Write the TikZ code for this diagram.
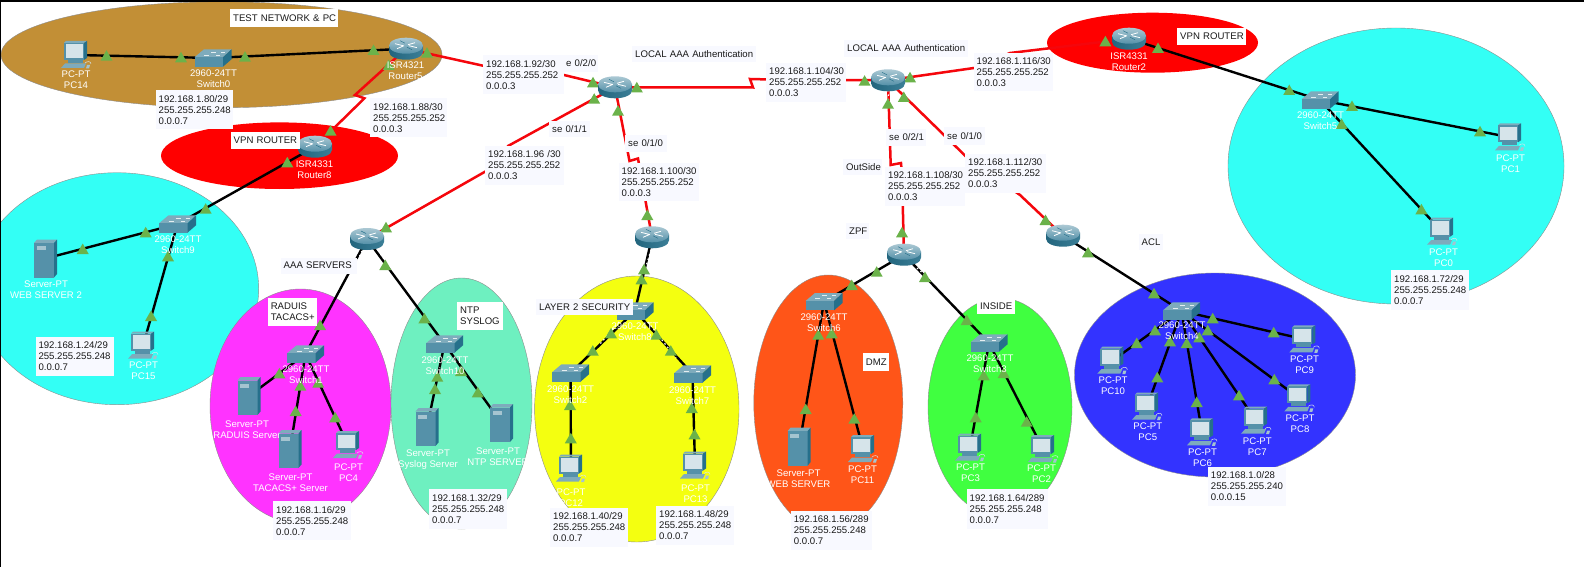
\documentclass[tikz,border=0pt]{standalone}
\usepackage{fontspec}
\setmainfont{Liberation Sans}
\pgfdeclarelayer{ell}\pgfdeclarelayer{lnk}\pgfdeclarelayer{lab}\pgfdeclarelayer{tri}\pgfdeclarelayer{box}
\pgfsetlayers{ell,lnk,tri,lab,main,box}
\definecolor{tgreen}{HTML}{6BB24A}
\definecolor{boxbg}{HTML}{F8F9FF}
\definecolor{redlink}{HTML}{F5060C}
\definecolor{face}{HTML}{5591A9}
\definecolor{topf}{HTML}{7EABBC}
\definecolor{side}{HTML}{26708B}
\definecolor{scr}{HTML}{D6E4EA}
\definecolor{zcyan}{HTML}{33FFF5}
\definecolor{zbrown}{HTML}{C28F36}
\definecolor{zmag}{HTML}{FF33FF}
\definecolor{zteal}{HTML}{6EF0C0}
\definecolor{zyel}{HTML}{F4FF10}
\definecolor{zorg}{HTML}{FF5518}
\definecolor{zgrn}{HTML}{40FF40}
\definecolor{zblu}{HTML}{3333FF}
\newcommand{\txtfont}{\fontsize{9.6}{11}\selectfont}
\tikzset{
  zone/.style={draw=black!45,line width=.4pt,fill=#1},
  blk/.style={draw=black,line width=2.4pt},
  rdl/.style={draw=redlink,line width=2.5pt,line join=miter},
  whitedots/.style={draw=white,line width=1.2pt,dash pattern=on 1.5pt off 3pt},
  devlab/.style={font=\txtfont,text=white,align=center,inner sep=0pt},
  tb/.style={fill=boxbg,inner sep=0pt,font=\txtfont,text=black!90,align=left,anchor=north west},
  icon/.style={inner sep=0pt,outer sep=0pt},
  routericon/.style={icon,minimum width=36pt,minimum height=26pt,path picture={
    \begin{scope}[shift={(path picture bounding box.center)}]
      \shade[left color=side!90!black,middle color=white!85!face,right color=side!90] (-17,-3) -- (-17,3)
        .. controls (-17,8) and (-9,11) .. (0,11) .. controls (9,11) and (17,8) .. (17,3) -- (17,-3) -- cycle;
      \shade[top color=topf!65!white,bottom color=face] (-17,-3) .. controls (-17,-8) and (-9,-11) .. (0,-11)
        .. controls (9,-11) and (17,-8) .. (17,-3) .. controls (17,2) and (9,5) .. (0,5)
        .. controls (-9,5) and (-17,2) .. (-17,-3) -- cycle;
      \draw[white,line width=.8pt] (-11,-5) -- (-3,-3) (11,-1) -- (3,-3) (-9,0) -- (-2,-3) (9,-6) -- (2,-4);
      \draw[side,line width=.5pt] (-6,-8) -- (-1,-5.5) (6,1) -- (1,-1.5);
    \end{scope}}},
  switchicon/.style={icon,minimum width=40pt,minimum height=20pt,path picture={
    \begin{scope}[shift={(path picture bounding box.center)}]
      \fill[topf] (-18.5,-.7) -- (-9,-8.7) -- (18.5,-8.7) -- (10,-.7) -- cycle;
      \fill[face] (-18.5,-.7) rectangle (10,8.7);
      \fill[side] (10,-.7) -- (18.5,-8.7) -- (18.5,1.3) -- (10,8.7) -- cycle;
      \draw[white!80!topf,line width=.6pt] (-9,-3) -- (-4,-3) (-2,-6) -- (3,-6) (3,-3) -- (7,-3) (8,-6) -- (12,-6);
    \end{scope}}},
  servericon/.style={icon,minimum width=26pt,minimum height=42pt,path picture={
    \begin{scope}[shift={(path picture bounding box.center)}]
      \fill[topf] (-11.5,-15.5) -- (-8.5,-19) -- (11.5,-19) -- (8.5,-15.5) -- cycle;
      \fill[face] (-11.5,-15.5) rectangle (8.5,19);
      \fill[side] (8.5,-15.5) -- (11.5,-19) -- (11.5,15.5) -- (8.5,19) -- cycle;
      \fill[topf!70!white] (-9,-12.5) rectangle (0,-8.5);
    \end{scope}}},
  pcicon/.style={icon,minimum width=34pt,minimum height=30pt,path picture={
    \begin{scope}[shift={(path picture bounding box.center)}]
      \fill[topf] (-12,-12) -- (-10,-14) -- (11,-14) -- (8,-12) -- cycle;
      \fill[face] (-12,-12) rectangle (8,5);
      \fill[side] (8,-12) -- (11,-14) -- (11,3) -- (8,5) -- cycle;
      \fill[scr] (-10.5,-10.5) rectangle (7,3);
      \fill[face] (-8,5) rectangle (7,8);
      \fill[topf] (-11,8.5) -- (10,8.5) -- (8,13) -- (-15,13) -- cycle;
      \fill[topf!70!white] (11,10) -- (14,10) -- (13,13.5) -- (10,13.5) -- cycle;
      \draw[scr,line width=.5pt] (9,8) .. controls (11,6) and (15,6) .. (15,9);
    \end{scope}}},
}
% type, name, x, y, label x, label y, label
\newcommand{\devat}[7]{%
  \node[#1] (#2) at (#3,#4) {};
  \begin{pgfonlayer}{lab}\node[devlab] (#2L) at (#5,#6) {#7};\end{pgfonlayer}}
% name, x1, y1, x2, y2, text, fill
\newcommand{\txtbox}[7][boxbg]{%
  \begin{pgfonlayer}{box}
  \node[tb,fill=#1,minimum width={(#5-#3)*1pt},minimum height={(#6-#4)*1pt},text width={(#5-#3-6)*1pt},inner xsep=3pt] (#2) at (#3,#4) {#7};
  \end{pgfonlayer}}
\newcommand{\lnkB}[2]{\begin{pgfonlayer}{lnk}\draw[blk] (#1.center) -- (#2.center);\end{pgfonlayer}}
\begin{document}
\begin{tikzpicture}[x=1pt,y=-1pt]
\useasboundingbox (0,0) rectangle (1584,567);

\begin{pgfonlayer}{ell}
\fill[white] (0,0) rectangle (1584,567);
\begin{scope}
\clip (1,2) rectangle (1584,567);
\draw[zone=zcyan] (117,288.7) ellipse [x radius=141.7,y radius=116];
\draw[zone=zbrown] (221.5,54.7) ellipse [x radius=220.5,y radius=53];
\draw[zone=red,draw=none] (279.5,155.7) ellipse [x radius=118.5,y radius=33.3];
\draw[zone=zmag] (300.5,406) ellipse [x radius=90.5,y radius=117];
\draw[zone=zteal] (461.5,403.5) ellipse [x radius=70.5,y radius=125.5];
\draw[zone=zyel] (636.8,409) ellipse [x radius=102.2,y radius=133];
\draw[zone=zorg] (828.3,403) ellipse [x radius=74.5,y radius=128];
\draw[zone=zgrn] (1000,407) ellipse [x radius=72,y radius=109];
\draw[zone=zblu] (1215,375) ellipse [x radius=140.5,y radius=102];
\draw[zone=red,draw=none] (1152.5,42.7) ellipse [x radius=105.5,y radius=30];
\draw[zone=zcyan] (1396,166) ellipse [x radius=168,y radius=138];
\end{scope}
\fill[black] (0,0) rectangle (1584,2);
\fill[black] (0,0) rectangle (1,567);
\end{pgfonlayer}

% devices
\devat{routericon}{rFive}{406}{48.7}{405.5}{71}{ISR4321\\Router5}
\devat{routericon}{rEight}{315}{146.7}{314.5}{170}{ISR4331\\Router8}
\devat{routericon}{rTwo}{1129}{38.7}{1129}{61.7}{ISR4331\\Router2}
\node[routericon] (rCL) at (615,87.3) {};
\node[routericon] (rCR) at (888,80.3) {};
\node[routericon] (rAAA) at (367,239) {};
\node[routericon] (rYel) at (652,237.3) {};
\node[routericon] (rZPF) at (904,254.7) {};
\node[routericon] (rACL) at (1063,235.7) {};
\devat{switchicon}{sZero}{213}{58}{213.5}{78.5}{2960-24TT\\Switch0}
\devat{switchicon}{sNine}{177.5}{224}{178}{244.5}{2960-24TT\\Switch9}
\devat{switchicon}{sFive}{1320}{100}{1320.5}{120.2}{2960-24TT\\Switch5}
\devat{switchicon}{sOne}{305.5}{354}{306}{375}{2960-24TT\\Switch1}
\devat{switchicon}{sTen}{444.5}{344}{445}{366}{2960-24TT\\Switch10}
\devat{switchicon}{sEight}{635}{311}{635}{331.5}{2960-24TT\\Switch8}
\devat{switchicon}{sTwoS}{570.5}{373}{570.5}{394.5}{2960-24TT\\Switch2}
\devat{switchicon}{sSeven}{692.5}{374}{692.5}{396}{2960-24TT\\Switch7}
\devat{switchicon}{sSix}{824}{301.7}{824}{322.2}{2960-24TT\\Switch6}
\devat{switchicon}{sThree}{989}{343}{990}{363.2}{2960-24TT\\Switch3}
\devat{switchicon}{sFour}{1181.5}{311}{1182}{330.8}{2960-24TT\\Switch4}
\devat{servericon}{wsTwo}{45.5}{258.5}{46}{289.5}{Server-PT\\WEB SERVER 2}
\devat{servericon}{svRad}{249}{396}{247}{430}{Server-PT\\RADUIS Server}
\devat{servericon}{svTac}{290}{449}{290.5}{483}{Server-PT\\TACACS+ Server}
\devat{servericon}{svSys}{427}{427}{428}{460}{Server-PT\\Syslog Server}
\devat{servericon}{svNtp}{501.5}{423}{498}{456.5}{Server-PT\\NTP SERVER}
\devat{servericon}{svWeb}{799}{446.7}{798.5}{478.2}{Server-PT\\WEB SERVER}
\devat{pcicon}{pFourteen}{76}{55}{76}{80}{PC-PT\\PC14}
\devat{pcicon}{pFifteen}{143}{345.7}{143.5}{370.7}{PC-PT\\PC15}
\devat{pcicon}{pFour}{348}{445}{348.5}{473}{PC-PT\\PC4}
\devat{pcicon}{pTwelve}{571}{468.5}{571}{498}{PC-PT\\PC12}
\devat{pcicon}{pThirteen}{695}{465.5}{695.5}{494}{PC-PT\\PC13}
\devat{pcicon}{pEleven}{863}{449}{862.5}{474.2}{PC-PT\\PC11}
\devat{pcicon}{pThree}{970}{447.7}{970.5}{472.3}{PC-PT\\PC3}
\devat{pcicon}{pTwoP}{1043}{449}{1041.5}{473.5}{PC-PT\\PC2}
\devat{pcicon}{pOne}{1510}{137.3}{1510.5}{163.2}{PC-PT\\PC1}
\devat{pcicon}{pZero}{1442}{231.7}{1443.5}{257.2}{PC-PT\\PC0}
\devat{pcicon}{pTen}{1112.3}{360.7}{1113}{386}{PC-PT\\PC10}
\devat{pcicon}{pFiveP}{1147}{406.7}{1147.8}{431.8}{PC-PT\\PC5}
\devat{pcicon}{pSix}{1202}{432.3}{1202.5}{457.5}{PC-PT\\PC6}
\devat{pcicon}{pSevenP}{1256}{420.7}{1257.3}{446.2}{PC-PT\\PC7}
\devat{pcicon}{pEightP}{1299.3}{398.3}{1300}{423.8}{PC-PT\\PC8}
\devat{pcicon}{pNineP}{1304.3}{339.3}{1304.6}{364.3}{PC-PT\\PC9}

% black links
\foreach \a/\b in {pFourteen/sZero,sZero/rFive,rEight/sNine,sNine/wsTwo,sNine/pFifteen,
  rAAA/sOne,rAAA/sTen,sOne/svRad,sOne/svTac,sOne/pFour,sTen/svSys,sTen/svNtp,
  rYel/sEight,sEight/sTwoS,sEight/sSeven,sTwoS/pTwelve,sSeven/pThirteen,
  rZPF/sSix,rZPF/sThree,sSix/svWeb,sSix/pEleven,sThree/pThree,sThree/pTwoP,
  rACL/sFour,sFour/pTen,sFour/pFiveP,sFour/pSix,sFour/pSevenP,sFour/pEightP,sFour/pNineP,
  rTwo/sFive,sFive/pOne,sFive/pZero}{\lnkB{\a}{\b}}

% serial links with their bends
\begin{pgfonlayer}{lnk}
\draw[rdl] (rFive.center) -- (483,65.7) -- (564,75) -- (rCL.center);
\draw[rdl] (rFive.center) -- (355,95) -- (364.4,98.3) -- (rEight.center);
\draw[rdl] (rCL.center) -- (508,146) -- (495,166) -- (rAAA.center);
\draw[rdl] (rCL.center) -- (629.5,161) -- (638,158.5) -- (640,170) -- (rYel.center);
\draw[rdl] (rCL.center) -- (753,87.5) -- (750,79) -- (770,79.5) -- (rCR.center);
\draw[rdl] (rCR.center) -- (974,68) -- (1010,53) -- (rTwo.center);
\draw[rdl] (rCR.center) -- (890.7,165) -- (901,163) -- (902,175) -- (rZPF.center);
\draw[rdl] (rCR.center) -- (968,158.5) -- (1020,195) -- (rACL.center);
\draw[whitedots] (614,94) -- (618,112);
\draw[whitedots] (888,90) -- (888.5,100);
\draw[whitedots] (651,250) -- (643,276);
\draw[whitedots] (378,250) -- (386,262);
\draw[whitedots] (362,251) -- (355,266);
\draw[whitedots] (917,268) -- (925,275);
\draw[whitedots] (619,322) -- (600,344);
\draw[whitedots] (648,322) -- (676,358);
\end{pgfonlayer}

% link lights
\begin{pgfonlayer}{tri}
\foreach \x/\y in {106.5/55.7,181/57.3,245/56.7,373.5/50,427/52.7,388.7/65,330.6/130.7,287.3/162.3,386/227.3,385.3/265,
 205.7/208.7,145.7/232.3,82.7/249,168/256.3,151/316,
 593/82.3,636.8/87.3,594.2/98.7,618/110.7,647.3/215,644/269.3,641.5/279.3,864.6/80.7,910/77.3,888/103.7,903.8/97,902/232.3,
 876.7/271.7,925/277,851.7/285,1045.5/220,
 1105.4/41.3,1158/48,1289.2/90,1352/106,1341.6/124,1480/131.3,1421.4/209.3,1088/252.3,1154/293.3,
 320/325,424.4/318.3,279.4/373.3,300.4/385.7,318.3/382.7,295.7/411,335.2/417.3,437.3/376.7,461/371,435/389,477.8/392.3,
 611/333.3,656.3/334.7,592.8/350.7,670.8/350.7,570/405,691.8/408,570.8/438.3,694.5/434.3,
 966.7/320,818.3/334.7,831.7/333.3,805.7/409,854.3/418.7,983.7/375.3,1003.7/373,975.7/417.3,1026.7/421.7,
 1212.7/318.3,1155/330.3,1136.7/343,1170/341.3,1186.7/343,1199.3/337.3,1207.7/330.3,1273.7/332.3,1274.3/379.3,1239/395.3,1196.7/402,1157.3/377.3}
 {\fill[tgreen] (\x-6,\y+5) -- (\x+6,\y+5) -- (\x,\y-5.5) -- cycle;}
\end{pgfonlayer}

% text boxes
\txtbox[white]{tTest}{230}{9}{338}{27}{\mbox{TEST NETWORK \& PC}}
\txtbox{tEighty}{155.5}{90}{233}{129.3}{192.168.1.80/29\\255.255.255.248\\0.0.0.7}
\txtbox{tEightyEight}{370}{98.3}{447}{137.3}{192.168.1.88/30\\255.255.255.252\\0.0.0.3}
\txtbox{tNinetyTwo}{483}{55}{564}{94}{192.168.1.92/30\\255.255.255.252\\0.0.0.3}
\txtbox[white]{tVpnL}{230.5}{131.7}{299.5}{148.3}{\mbox{VPN ROUTER}}
\txtbox{tNinetySix}{485}{145.3}{564}{184.3}{\mbox{192.168.1.96 /30}\\255.255.255.252\\0.0.0.3}
\txtbox{tAaa}{280.5}{257.3}{356.5}{273.3}{\mbox{AAA SERVERS}}
\txtbox{tEzero}{563}{55}{598}{71.7}{\mbox{e 0/2/0}}
\txtbox{tLocalL}{632}{45.7}{756}{62.3}{\mbox{LOCAL AAA Authentication}}
\txtbox{tOneOFour}{766}{62.7}{846}{102}{192.168.1.104/30\\255.255.255.252\\0.0.0.3}
\txtbox{tLocalR}{844}{40}{968}{56.7}{\mbox{LOCAL AAA Authentication}}
\txtbox{tOneSixteen}{973.5}{52.7}{1053}{91.3}{192.168.1.116/30\\255.255.255.252\\0.0.0.3}
\txtbox{tSeA}{549}{120.7}{590}{137.3}{\mbox{se 0/1/1}}
\txtbox{tSeB}{625}{135}{666.5}{151.7}{\mbox{se 0/1/0}}
\txtbox{tOneHundred}{618.5}{162.3}{699}{201}{192.168.1.100/30\\255.255.255.252\\0.0.0.3}
\txtbox{tSeC}{886}{129}{926}{145.7}{\mbox{se 0/2/1}}
\txtbox{tSeD}{944}{127.3}{985}{144.3}{\mbox{se 0/1/0}}
\txtbox{tOut}{843}{158.3}{882}{175}{OutSide}
\txtbox{tOneOEight}{885}{166.7}{965}{205.3}{192.168.1.108/30\\255.255.255.252\\0.0.0.3}
\txtbox{tOneTwelve}{965}{154}{1045.5}{192.3}{192.168.1.112/30\\255.255.255.252\\0.0.0.3}
\txtbox{tZpf}{846}{222.3}{869}{239}{ZPF}
\txtbox[white]{tVpnR}{1177}{28}{1246}{44.7}{\mbox{VPN ROUTER}}
\txtbox{tAcl}{1138.5}{233.3}{1163}{250}{ACL}
\txtbox{tSeventyTwo}{1391}{270}{1469}{310}{192.168.1.72/29\\255.255.255.248\\0.0.0.7}
\txtbox{tTwentyFour}{35.3}{336.3}{113.7}{376}{192.168.1.24/29\\255.255.255.248\\0.0.0.7}
\txtbox[white]{tRad}{267.6}{297.5}{317}{325.5}{RADUIS\\TACACS+}
\txtbox{tSixteen}{273}{501}{351}{540}{192.168.1.16/29\\255.255.255.248\\0.0.0.7}
\txtbox[white]{tNtp}{457}{301.7}{503}{329.7}{NTP\\SYSLOG}
\txtbox{tThirtyTwo}{429}{489}{507}{528.3}{192.168.1.32/29\\255.255.255.248\\0.0.0.7}
\txtbox{tLayer}{536}{298.3}{633}{315}{\mbox{LAYER 2 SECURITY}}
\txtbox{tForty}{550}{507.7}{627.5}{546.7}{192.168.1.40/29\\255.255.255.248\\0.0.0.7}
\txtbox{tFortyEight}{656}{505.3}{734}{544.3}{192.168.1.48/29\\255.255.255.248\\0.0.0.7}
\txtbox{tFiftySix}{790.7}{510.7}{871.7}{550}{192.168.1.56/289\\255.255.255.248\\0.0.0.7}
\txtbox[white]{tDmz}{862.7}{353}{888.7}{371}{DMZ}
\txtbox[white]{tInside}{977}{297}{1015}{314}{INSIDE}
\txtbox{tSixtyFour}{966.5}{489}{1047.6}{529}{192.168.1.64/289\\255.255.255.248\\0.0.0.7}
\txtbox{tZero}{1207.7}{466.7}{1285.7}{506}{192.168.1.0/28\\255.255.255.240\\0.0.0.15}
\end{tikzpicture}
\end{document}
